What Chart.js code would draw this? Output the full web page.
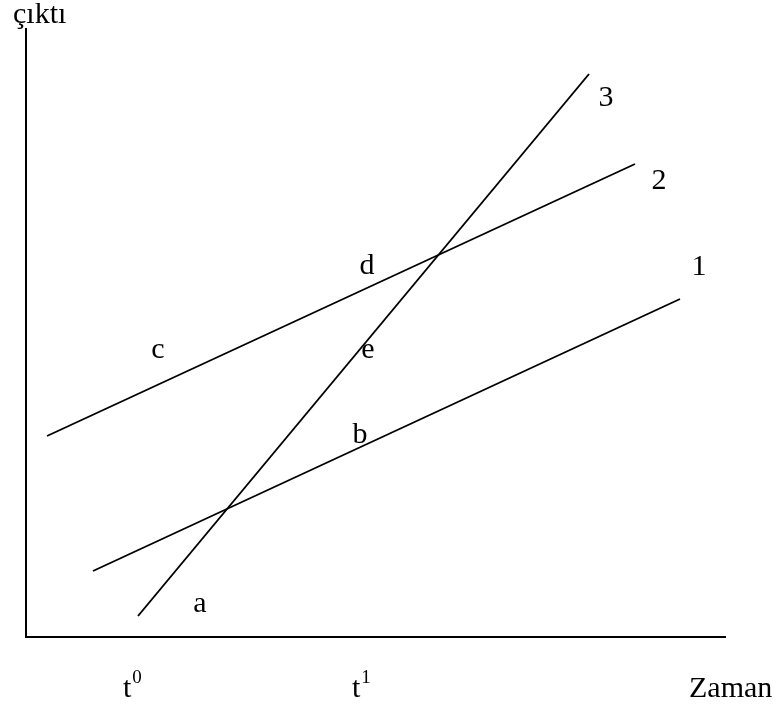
<!DOCTYPE html>
<html>
<head>
<meta charset="utf-8">
<script src="https://cdn.jsdelivr.net/npm/chart.js@4/dist/chart.umd.min.js"></script>
<style>
  body { margin: 0; background: #fff; }
  canvas { display: block; }
</style>
</head>
<body>
<canvas id="chart" width="777" height="704"></canvas>
<script>
// Lines (data units: x = time, y = output)
const line1X = [67, 654];
const line1Y = [66, 338];
const line2X = [21, 609];
const line2Y = [201, 473];
const line3X = [112, 563];
const line3Y = [21, 563];

// Point / line labels
const markText = ['a', 'b', 'c', 'd', 'e', '1', '2', '3'];
const markX = [174, 334, 132, 341, 342, 673, 633, 580];
const markY = [25, 194, 279, 363, 279, 362, 448, 531];

// Time ticks on the x axis
const tickBase = ['t', 't'];
const tickSup = ['0', '1'];
const tickX = [97, 326];

const xTitle = 'Zaman';
const yTitle = 'çıktı';

const FONT = '"Liberation Serif", "Times New Roman", serif';

function toPoints(xs, ys) {
    return xs.map((x, i) => ({ x: x, y: ys[i] }));
}

// Draws the letters, tick labels and axis titles at data positions
const textPlugin = {
    id: 'textPlugin',
    afterDraw(chart) {
        const ctx = chart.ctx;
        const xs = chart.scales.x;
        const ys = chart.scales.y;
        ctx.save();
        ctx.fillStyle = '#000';
        ctx.textBaseline = 'alphabetic';

        ctx.font = '30px ' + FONT;
        ctx.textAlign = 'center';
        markText.forEach((t, i) => {
            ctx.fillText(t, xs.getPixelForValue(markX[i]), ys.getPixelForValue(markY[i]));
        });

        // t0 / t1 under the axis
        ctx.textAlign = 'left';
        const tickBaseline = ys.getPixelForValue(-60);
        tickBase.forEach((t, i) => {
            const px = xs.getPixelForValue(tickX[i]);
            ctx.font = '30px ' + FONT;
            ctx.fillText(t, px, tickBaseline);
            const w = ctx.measureText(t).width;
            ctx.font = '19px ' + FONT;
            ctx.fillText(tickSup[i], px + w + 1, tickBaseline - 14);
        });

        ctx.font = '30px ' + FONT;
        ctx.fillText(xTitle, xs.getPixelForValue(663), tickBaseline);
        ctx.fillText(yTitle, xs.getPixelForValue(-13), ys.getPixelForValue(614));
        ctx.restore();
    }
};

const lineStyle = {
    showLine: true,
    borderColor: '#000',
    borderWidth: 1.9,
    pointRadius: 0,
    fill: false
};

new Chart(document.getElementById('chart'), {
    type: 'scatter',
    data: {
        datasets: [
            { label: '1', data: toPoints(line1X, line1Y), ...lineStyle },
            { label: '2', data: toPoints(line2X, line2Y), ...lineStyle },
            { label: '3', data: toPoints(line3X, line3Y), ...lineStyle }
        ]
    },
    options: {
        responsive: false,
        animation: false,
        layout: { padding: { left: 26, right: 52, top: 29, bottom: 67 } },
        plugins: {
            legend: { display: false },
            tooltip: { enabled: false }
        },
        scales: {
            x: {
                type: 'linear',
                min: 0,
                max: 699,
                grid: { display: false, drawTicks: false },
                ticks: { display: false },
                border: { display: true, color: '#000', width: 2 }
            },
            y: {
                type: 'linear',
                min: 0,
                max: 608,
                grid: { display: false, drawTicks: false },
                ticks: { display: false },
                border: { display: true, color: '#000', width: 2 }
            }
        }
    },
    plugins: [textPlugin]
});
</script>
</body>
</html>
